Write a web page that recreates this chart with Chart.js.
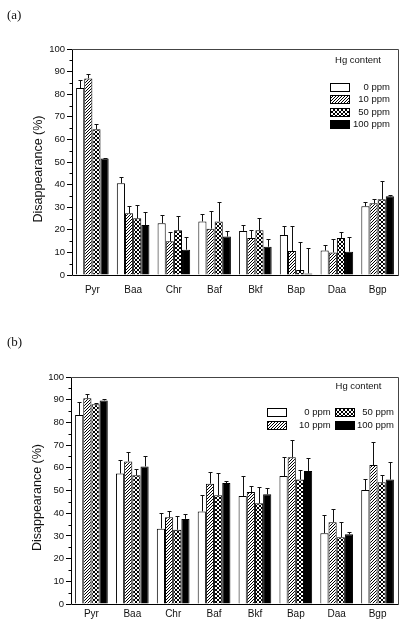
<!DOCTYPE html>
<html>
<head>
<meta charset="utf-8">
<script src="https://cdn.jsdelivr.net/npm/chart.js@4.4.0/dist/chart.umd.min.js"></script>
<style>
  body { margin: 0; background: #fff; width: 406px; height: 627px; overflow: hidden; position: relative; }
  canvas { position: absolute; left: 0; }
  #chartA { top: 0; }
  #chartB { top: 310px; }
  .tag { position: absolute; font: 13px "Liberation Serif", serif; color: #111; line-height: 15px; }
</style>
</head>
<body>
<canvas id="chartA" width="406" height="310"></canvas>
<canvas id="chartB" width="406" height="317"></canvas>
<div class="tag" style="left:7px; top:7px;">(a)</div>
<div class="tag" style="left:7px; top:334px;">(b)</div>
<script>
const categories = ["Pyr", "Baa", "Chr", "Baf", "Bkf", "Bap", "Daa", "Bgp"];
const seriesLabels = ["0 ppm", "10 ppm", "50 ppm", "100 ppm"];
const legendTitle = "Hg content";
const yTitle = "Disappearance (%)";

// panel (a) - values and upper error (sd)
const a0 = [82.7, 40.6, 22.9, 23.7, 19.5, 17.7, 10.8, 30.4];
const a10 = [87.0, 27.3, 14.9, 20.5, 16.4, 10.6, 10.0, 31.7];
const a50 = [64.5, 25.1, 19.8, 23.7, 19.8, 2.2, 16.4, 33.5];
const a100 = [51.5, 22.1, 11.2, 17.0, 12.5, 0.7, 10.3, 34.8];
const aErr0 = [3.4, 2.6, 3.5, 3.1, 2.5, 4.1, 2.3, 2.0];
const aErr10 = [1.8, 3.4, 4.0, 7.8, 3.4, 10.9, 5.8, 1.9];
const aErr50 = [2.5, 6.0, 6.2, 8.5, 5.6, 12.3, 2.5, 8.1];
const aErr100 = [0.4, 5.6, 5.5, 2.3, 3.3, 11.1, 6.4, 0.4];

// panel (b)
const b0 = [83.3, 57.5, 33.2, 40.8, 47.6, 56.4, 31.2, 50.2];
const b10 = [90.6, 62.8, 38.2, 53.0, 49.3, 64.6, 36.0, 61.2];
const b50 = [88.0, 56.7, 32.7, 47.9, 44.4, 54.8, 29.4, 53.6];
const b100 = [89.7, 60.6, 37.5, 53.3, 48.3, 58.6, 30.7, 54.8];
const bErr0 = [5.9, 6.0, 7.1, 7.4, 8.9, 8.5, 7.9, 4.7];
const bErr10 = [1.8, 4.0, 2.6, 5.3, 2.5, 7.7, 5.7, 10.0];
const bErr50 = [0.6, 2.6, 6.1, 9.8, 7.0, 4.4, 6.6, 3.4];
const bErr100 = [0.6, 4.8, 2.3, 0.9, 2.9, 5.5, 1.2, 7.7];

function makePattern(kind) {
  const n = kind === "hatch" ? 3 : 4;
  const c = document.createElement("canvas");
  c.width = n;
  c.height = n;
  const g = c.getContext("2d");
  g.fillStyle = "#fff";
  g.fillRect(0, 0, n, n);
  g.fillStyle = "#000";
  for (let i = 0; i < n; i++) {
    g.fillRect(i, n - 1 - i, 1, 1);
    if (kind === "cross") g.fillRect(i, i, 1, 1);
  }
  return g.createPattern(c, "repeat");
}

const fills = ["#fff", makePattern("hatch"), makePattern("cross"), "#000"];

const decor = {
  id: "decor",
  afterDatasetsDraw(chart, args, o) {
    const ctx = chart.ctx;
    const yScale = chart.scales.y;
    ctx.save();
    ctx.strokeStyle = "#111";
    ctx.lineWidth = 1;
    chart.data.datasets.forEach((ds, i) => {
      const meta = chart.getDatasetMeta(i);
      meta.data.forEach((bar, j) => {
        const x = Math.round(bar.x) + 0.5;
        const top = Math.round(yScale.getPixelForValue(ds.data[j] + ds.errors[j])) + 0.5;
        ctx.beginPath();
        ctx.moveTo(x, bar.y);
        ctx.lineTo(x, top);
        ctx.moveTo(x - 2, top);
        ctx.lineTo(x + 2, top);
        ctx.stroke();
      });
    });
    ctx.restore();
  },
  afterDraw(chart, args, o) {
    const { ctx, chartArea: ca } = chart;
    const yScale = chart.scales.y;
    ctx.save();
    // frame
    ctx.lineWidth = 1;
    ctx.strokeStyle = "#444";
    const l = Math.round(ca.left) + 0.5, r = Math.round(ca.right) + 0.5;
    const t = Math.round(ca.top) + 0.5, b = Math.round(ca.bottom) + 0.5;
    ctx.beginPath();
    ctx.moveTo(l, t); ctx.lineTo(r, t); ctx.lineTo(r, b);
    ctx.stroke();
    ctx.strokeStyle = "#000";
    ctx.beginPath();
    ctx.moveTo(l, t); ctx.lineTo(l, b); ctx.lineTo(r, b);
    ctx.stroke();
    // minor ticks
    for (let v = 5; v < 100; v += 10) {
      const y = Math.round(yScale.getPixelForValue(v)) + 0.5;
      ctx.beginPath();
      ctx.moveTo(l - 3, y);
      ctx.lineTo(l, y);
      ctx.stroke();
    }
    // y title
    ctx.fillStyle = "#111";
    ctx.font = '12.5px "Liberation Sans"';
    ctx.textAlign = "center";
    ctx.textBaseline = "middle";
    ctx.translate(o.titleX, (ca.top + ca.bottom) / 2 + 7);
    ctx.rotate(-Math.PI / 2);
    ctx.fillText(yTitle, 0, 0);
    ctx.setTransform(1, 0, 0, 1, 0, 0);
    // legend
    ctx.font = '9.5px "Liberation Sans"';
    ctx.fillText(legendTitle, ca.right + o.legend.titleDx, ca.top + o.legend.titleDy);
    ctx.textAlign = "right";
    o.legend.items.forEach((it, i) => {
      const ds = chart.data.datasets[i];
      const bx = Math.round(ca.right + it.bx);
      const by = Math.round(ca.top + it.by);
      ctx.fillStyle = ds.backgroundColor;
      ctx.fillRect(bx, by - 4, 19, 8);
      ctx.strokeStyle = "#000";
      ctx.strokeRect(bx + 0.5, by - 4 + 0.5, 19, 8);
      ctx.fillStyle = "#111";
      ctx.fillText(ds.label, ca.right + it.tx, by + 0.5);
    });
    ctx.restore();
  },
};

function makeChart(id, values, errors, s) {
  return new Chart(document.getElementById(id), {
    type: "bar",
    data: {
      labels: categories,
      datasets: values.map((vals, i) => ({
        label: seriesLabels[i],
        data: vals,
        errors: errors[i],
        backgroundColor: fills[i],
        borderColor: "#000",
        borderWidth: 1,
        categoryPercentage: 0.8,
        barPercentage: 1.0,
      })),
    },
    plugins: [decor],
    options: {
      responsive: false,
      animation: false,
      events: [],
      layout: { padding: { top: s.top, right: 8, left: 0, bottom: 0 } },
      plugins: {
        legend: { display: false },
        tooltip: { enabled: false },
        decor: { titleX: s.titleX, legend: s.legend },
      },
      scales: {
        x: {
          grid: { display: false, drawTicks: false },
          border: { display: false },
          ticks: { color: "#111", padding: s.xPad, font: { family: "Liberation Sans", size: 10 } },
          afterFit: (scale) => { scale.height = s.xHeight; },
        },
        y: {
          min: 0,
          max: 100,
          grid: { drawOnChartArea: false, drawTicks: true, tickLength: 5, color: "#000" },
          border: { display: false },
          ticks: { stepSize: 10, padding: 2, color: "#111", font: { family: "Liberation Sans", size: 9.5 } },
          afterFit: (scale) => { scale.width = s.yWidth; },
        },
      },
    },
  });
}

makeChart("chartA", [a0, a10, a50, a100], [aErr0, aErr10, aErr50, aErr100], {
  top: 49, xHeight: 35, yWidth: 72, xPad: 9, titleX: 39,
  legend: {
    titleDx: -40, titleDy: 11,
    items: [
      { bx: -68, tx: -8, by: 37.5 },
      { bx: -68, tx: -8, by: 50 },
      { bx: -68, tx: -8, by: 62.7 },
      { bx: -68, tx: -8, by: 75.3 },
    ],
  },
});

makeChart("chartB", [b0, b10, b50, b100], [bErr0, bErr10, bErr50, bErr100], {
  top: 67, xHeight: 23, yWidth: 71, xPad: 4, titleX: 38,
  legend: {
    titleDx: -39.5, titleDy: 9,
    items: [
      { bx: -131.3, tx: -67.3, by: 35 },
      { bx: -131.3, tx: -67.3, by: 47.5 },
      { bx: -63, tx: -4, by: 35 },
      { bx: -63, tx: -4, by: 47.5 },
    ],
  },
});
</script>
</body>
</html>
